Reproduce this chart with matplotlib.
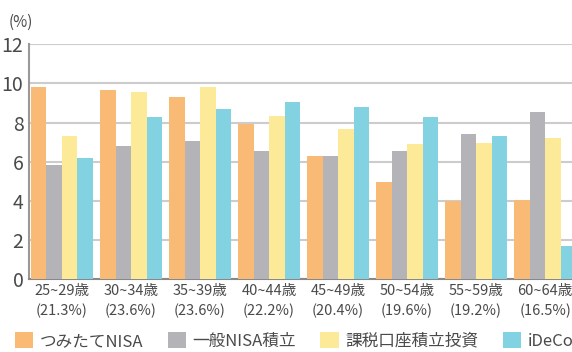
import numpy as np
import matplotlib
matplotlib.use("Agg")
import matplotlib.pyplot as plt
from matplotlib.patches import Patch

plt.rcParams['font.family'] = ['Noto Sans CJK JP', 'DejaVu Sans']

ages = ["25~29歳", "30~34歳", "35~39歳", "40~44歳", "45~49歳", "50~54歳", "55~59歳", "60~64歳"]
shares = ["(21.3%)", "(23.6%)", "(23.6%)", "(22.2%)", "(20.4%)", "(19.6%)", "(19.2%)", "(16.5%)"]
series_names = ["つみたてNISA", "一般NISA積立", "課税口座積立投資", "iDeCo"]

tsumitate = [9.82, 9.67, 9.31, 7.93, 6.30, 4.97, 3.98, 4.05]
ippan = [5.84, 6.81, 7.06, 6.55, 6.30, 6.55, 7.42, 8.54]
kazei = [7.32, 9.57, 9.82, 8.34, 7.68, 6.91, 6.96, 7.22]
ideco = [6.20, 8.29, 8.70, 9.06, 8.80, 8.29, 7.32, 1.70]

colors = ["#F9BA76", "#B4B4B8", "#FDEA98", "#82D2E2"]
txt = "#4A4A4A"

fig = plt.figure(figsize=(5.72, 3.52), dpi=100)
ax = fig.add_axes([29/572, (352-279.3)/352, 1-29/572, (279.3-44.3)/352])

x = np.arange(len(ages))
w = 0.2246
for k, vals in enumerate([tsumitate, ippan, kazei, ideco]):
    ax.bar(x + (k - 1.5) * w, vals, width=w, color=colors[k], zorder=3)

ax.set_ylim(0, 12)
ax.set_xlim(-0.478, 7.39)
ax.set_yticks(range(0, 13, 2))
ax.yaxis.grid(True, color="#CCCCCC", linewidth=1.5, zorder=0)
ax.set_xticks(x)
ax.set_xticklabels([a + "\n" + s for a, s in zip(ages, shares)], fontsize=10.5,
                   color=txt, linespacing=1.45)
for lab in ax.get_yticklabels():
    lab.set_family(['Liberation Sans Narrow', 'Noto Sans CJK JP'])
ax.tick_params(axis='y', labelsize=14, colors=txt, length=0, pad=4)
ax.tick_params(axis='x', length=0, pad=3.5)

for side in ["top", "right"]:
    ax.spines[side].set_visible(False)
ax.spines["left"].set_color("#999999")
ax.spines["left"].set_linewidth(1.5)
ax.spines["bottom"].set_color("#888888")
ax.spines["bottom"].set_linewidth(1.5)

fig.text(9/572, 1-22/352, "(%)", fontsize=11, color=txt, va="center")

handles = [Patch(facecolor=c, edgecolor="none") for c in colors]
fig.legend(handles, series_names, loc="center left", bbox_to_anchor=(0.0, 1-341/352),
           ncol=4, frameon=False, fontsize=12, handlelength=1.1, handleheight=1.1,
           handletextpad=0.4, columnspacing=1.45, labelcolor=txt)

fig.savefig("out.png", dpi=100)
